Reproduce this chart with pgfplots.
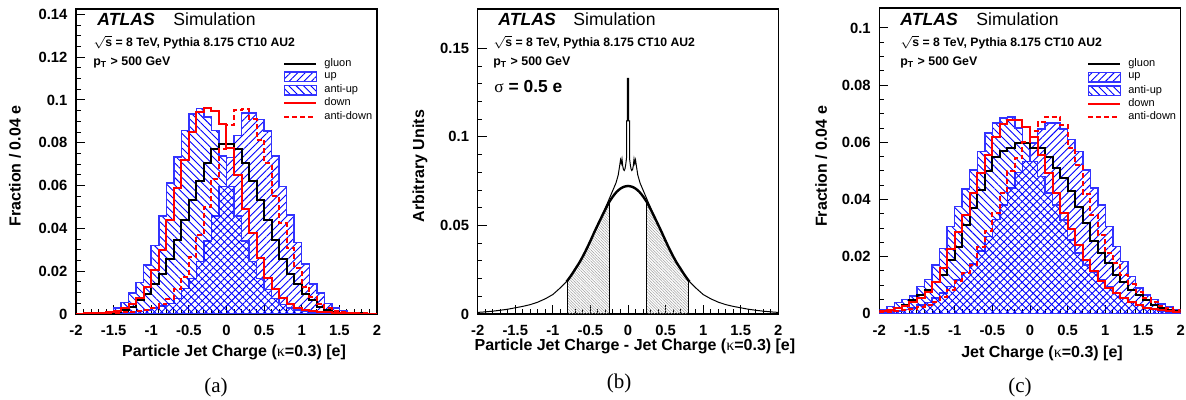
\documentclass[border=0pt]{standalone}
\usepackage{fontspec}
\setmainfont{Liberation Sans}
\newfontfamily\serif{Liberation Serif}
\usepackage{pgfplots}
\pgfplotsset{compat=1.18}
\usepackage{pgfplotstable}
\usetikzlibrary{patterns.meta}

% panel (a): particle jet charge, bins of 0.1 (left edges)
\pgfplotstableread{
x g u au d ad
-2.0 0.0001 0.0001 0.0001 0.0002 0.0001
-1.9 0.0002 0.0001 0.0002 0.0003 0.0001
-1.8 0.0003 0.0001 0.0003 0.0004 0.0002
-1.7 0.0004 0.0002 0.0005 0.0006 0.0003
-1.6 0.0006 0.0002 0.0010 0.0010 0.0004
-1.5 0.0010 0.0003 0.0027 0.0016 0.0005
-1.4 0.0019 0.0005 0.0053 0.0027 0.0007
-1.3 0.0034 0.0008 0.0097 0.0047 0.0010
-1.2 0.0066 0.0012 0.0147 0.0075 0.0014
-1.1 0.0092 0.0018 0.0230 0.0128 0.0020
-1.0 0.0138 0.0028 0.0320 0.0206 0.0030
-0.9 0.0185 0.0038 0.0459 0.0300 0.0045
-0.8 0.0258 0.0050 0.0612 0.0440 0.0072
-0.7 0.0346 0.0073 0.0733 0.0590 0.0118
-0.6 0.0440 0.0120 0.0857 0.0720 0.0175
-0.5 0.0534 0.0167 0.0935 0.0850 0.0265
-0.4 0.0620 0.0245 0.0961 0.0945 0.0370
-0.3 0.0705 0.0340 0.0920 0.0963 0.0500
-0.2 0.0770 0.0458 0.0857 0.0947 0.0630
-0.1 0.0795 0.0596 0.0737 0.0890 0.0770
0.0 0.0795 0.0730 0.0596 0.0776 0.0885
0.1 0.0770 0.0833 0.0458 0.0650 0.0955
0.2 0.0705 0.0940 0.0340 0.0490 0.0957
0.3 0.0620 0.0940 0.0245 0.0380 0.0910
0.4 0.0534 0.0908 0.0167 0.0260 0.0815
0.5 0.0440 0.0854 0.0115 0.0167 0.0705
0.6 0.0346 0.0737 0.0073 0.0115 0.0550
0.7 0.0258 0.0596 0.0045 0.0073 0.0424
0.8 0.0185 0.0463 0.0028 0.0047 0.0307
0.9 0.0138 0.0334 0.0018 0.0030 0.0214
1.0 0.0092 0.0234 0.0012 0.0020 0.0128
1.1 0.0066 0.0140 0.0008 0.0014 0.0081
1.2 0.0034 0.0097 0.0005 0.0010 0.0047
1.3 0.0019 0.0050 0.0003 0.0007 0.0027
1.4 0.0010 0.0027 0.0002 0.0005 0.0016
1.5 0.0006 0.0016 0.0002 0.0004 0.0010
1.6 0.0004 0.0008 0.0001 0.0003 0.0006
1.7 0.0003 0.0005 0.0001 0.0002 0.0004
1.8 0.0002 0.0003 0.0001 0.0002 0.0003
1.9 0.0001 0.0002 0.0001 0.0001 0.0002
2.0 0.0001 0.0002 0.0001 0.0001 0.0002
}\dataA

% panel (c): jet charge
\pgfplotstableread{
x g u au d ad
-2.0 0.0009 0.0005 0.0014 0.0010 0.0005
-1.9 0.0014 0.0007 0.0026 0.0014 0.0006
-1.8 0.0022 0.0010 0.0040 0.0020 0.0009
-1.7 0.0032 0.0015 0.0050 0.0028 0.0012
-1.6 0.0047 0.0021 0.0063 0.0040 0.0016
-1.5 0.0065 0.0030 0.0095 0.0055 0.0024
-1.4 0.0085 0.0040 0.0120 0.0075 0.0031
-1.3 0.0110 0.0055 0.0171 0.0110 0.0043
-1.2 0.0136 0.0072 0.0229 0.0160 0.0060
-1.1 0.0188 0.0095 0.0305 0.0225 0.0085
-1.0 0.0235 0.0118 0.0375 0.0285 0.0115
-0.9 0.0311 0.0145 0.0437 0.0346 0.0142
-0.8 0.0369 0.0175 0.0504 0.0422 0.0170
-0.7 0.0434 0.0220 0.0568 0.0492 0.0235
-0.6 0.0498 0.0270 0.0632 0.0556 0.0288
-0.5 0.0550 0.0330 0.0667 0.0620 0.0352
-0.4 0.0570 0.0380 0.0685 0.0665 0.0422
-0.3 0.0580 0.0440 0.0688 0.0677 0.0498
-0.2 0.0597 0.0495 0.0650 0.0677 0.0545
-0.1 0.0597 0.0533 0.0597 0.0653 0.0600
0.0 0.0580 0.0597 0.0533 0.0620 0.0640
0.1 0.0580 0.0646 0.0480 0.0556 0.0670
0.2 0.0550 0.0667 0.0422 0.0492 0.0690
0.3 0.0510 0.0667 0.0380 0.0422 0.0690
0.4 0.0475 0.0646 0.0328 0.0352 0.0661
0.5 0.0428 0.0609 0.0258 0.0295 0.0580
0.6 0.0375 0.0568 0.0212 0.0241 0.0521
0.7 0.0317 0.0504 0.0171 0.0188 0.0420
0.8 0.0253 0.0440 0.0145 0.0148 0.0345
0.9 0.0212 0.0381 0.0118 0.0113 0.0275
1.0 0.0177 0.0305 0.0095 0.0089 0.0212
1.1 0.0136 0.0235 0.0072 0.0072 0.0177
1.2 0.0110 0.0183 0.0055 0.0055 0.0135
1.3 0.0085 0.0130 0.0040 0.0040 0.0105
1.4 0.0065 0.0090 0.0030 0.0030 0.0075
1.5 0.0047 0.0065 0.0021 0.0022 0.0055
1.6 0.0032 0.0050 0.0015 0.0016 0.0040
1.7 0.0022 0.0035 0.0010 0.0012 0.0028
1.8 0.0014 0.0024 0.0007 0.0009 0.0020
1.9 0.0009 0.0014 0.0005 0.0006 0.0014
2.0 0.0009 0.0014 0.0005 0.0006 0.0014
}\dataC

\tikzset{
  hup/.style={pattern={Lines[angle=45,distance=2.6pt,line width=0.45pt]}, pattern color=blue},
  hau/.style={pattern={Lines[angle=-45,distance=2.6pt,line width=0.45pt]}, pattern color=blue},
  hgray/.style={pattern={Lines[angle=-45,distance=1pt,line width=0.25pt]}, pattern color=gray!75},
}
\pgfplotsset{
  atlas/.style={
    scale only axis,
    anchor=south west,
    xmin=-2, xmax=2, ymin=0,
    tick align=inside, tick pos=left,
    xtick={-2,-1.5,-1,-0.5,0,0.5,1,1.5,2},
    xticklabels={-2,-1.5,-1,-0.5,0,0.5,1,1.5,2},
    minor x tick num=4,
    major tick length=4.5pt, minor tick length=2.3pt,
    axis line style={line width=0.6pt},
    every tick/.style={black, line width=0.5pt},
    ticklabel style={font=\bfseries\fontsize{7.4}{8}\selectfont},
    xticklabel style={yshift=-2.3pt},
    yticklabel style={xshift=-0.8pt},
    label style={font=\bfseries\fontsize{8}{9.6}\selectfont},
    legend cell align=left,
    legend style={draw=none, fill=none, inner sep=0pt, row sep=1.1pt,
      font=\fontsize{5.5}{6.2}\selectfont,
      /tikz/every odd column/.append style={column sep=3.5pt},
      nodes={inner sep=0pt}},
  },
  hatchleg/.style={legend image code/.code={\draw[blue!80, line width=0.75pt, #1] (0pt,-2.4pt) rectangle (16pt,2.4pt);}},
  lineleg/.style={legend image code/.code={\draw[#1] (0pt,0pt) -- (16pt,0pt);}},
}

\newcommand{\atlastext}[3]{%
  \node[anchor=base west, inner sep=0pt, font=\fontsize{8.8}{10}\selectfont\bfseries\itshape] at (#1,374) {ATLAS};
  \node[anchor=base west, inner sep=0pt, font=\fontsize{8.8}{10}\selectfont] at (#2,374) {Simulation};
  \node[anchor=base west, inner sep=0pt, font=\fontsize{6.1}{7}\selectfont\bfseries] at (#3,353.5) {$\sqrt{\mbox{s}}$ = 8 TeV, Pythia 8.175 CT10 AU2};
  \node[anchor=base west, inner sep=0pt, font=\fontsize{6.2}{7}\selectfont\bfseries] at (#3,334) {p\textsubscript{T} > 500 GeV};
}

\begin{document}
\begin{tikzpicture}[x=0.5pt,y=0.5pt]
\useasboundingbox (0,0) rectangle (1186,400);

% ---------------- (a)
\begin{axis}[atlas, at={(38pt,43pt)}, width=150.5pt, height=152.5pt, ymax=0.1425,
  ytick={0,0.02,0.04,0.06,0.08,0.1,0.12,0.14},
  yticklabels={0,0.02,0.04,0.06,0.08,0.1,0.12,0.14},
  minor y tick num=3,
  xlabel={Particle Jet Charge ({\serif\mdseries κ}=0.3) [e]},
  ylabel={Fraction / 0.04 e},
  xlabel style={at={(axis description cs:0.525,-0.125)}, anchor=center},
  ylabel style={at={(axis description cs:-0.203,0.485)}, anchor=center},
  legend style={at={(axis description cs:0.688,0.840)}, anchor=north west},
]
\addlegendimage{lineleg={black, line width=1pt}}
\addlegendentry{gluon}
\addlegendimage{hatchleg={hup}}
\addlegendentry{up}
\addlegendimage{hatchleg={hau}}
\addlegendentry{anti-up}
\addlegendimage{lineleg={red, line width=1pt}}
\addlegendentry{down}
\addlegendimage{lineleg={red, line width=1pt, dash pattern=on 2.5pt off 1.5pt}}
\addlegendentry{anti-down}
\addplot[forget plot, const plot, draw=blue!80, line width=0.75pt, hup] table[x=x,y=u] {\dataA} \closedcycle;
\addplot[forget plot, const plot, draw=blue!80, line width=0.75pt, hau] table[x=x,y=au] {\dataA} \closedcycle;
\addplot[forget plot, const plot, black, line width=1pt] table[x=x,y=g] {\dataA};
\addplot[forget plot, const plot, red, line width=1pt, dash pattern=on 2.5pt off 1.5pt] table[x=x,y=ad] {\dataA};
\addplot[forget plot, const plot, red, line width=1pt] table[x=x,y=d] {\dataA};
\end{axis}
\atlastext{97}{173}{93}
\node[font=\serif\fontsize{10.5}{12}\selectfont] at (216,13) {(a)};

% ---------------- (b)
\begin{axis}[atlas, at={(238.85pt,43pt)}, width=150.3pt, height=152.5pt, ymax=0.1722,
  ytick={0,0.05,0.1,0.15},
  yticklabels={0,0.05,0.1,0.15},
  minor y tick num=4,
  xlabel={Particle Jet Charge - Jet Charge ({\serif\mdseries κ}=0.3) [e]},
  ylabel={Arbitrary Units},
  xlabel style={at={(axis description cs:0.523,-0.107)}, anchor=center},
  ylabel style={at={(axis description cs:-0.192,0.485)}, anchor=center},
]
\addplot[draw=none, hgray] coordinates {
(-0.81,0.0187) (-0.80,0.0192) (-0.75,0.0222) (-0.70,0.0255) (-0.65,0.0288) (-0.60,0.0326)
(-0.55,0.0368) (-0.50,0.0413) (-0.45,0.0460) (-0.40,0.0505) (-0.35,0.0549) (-0.30,0.0592) (-0.25,0.0632)
} \closedcycle;
\addplot[draw=none, hgray] coordinates {
(0.25,0.0632) (0.30,0.0592) (0.35,0.0549) (0.40,0.0505) (0.45,0.0460) (0.50,0.0413) (0.55,0.0368)
(0.60,0.0326) (0.65,0.0288) (0.70,0.0255) (0.75,0.0222) (0.80,0.0192) (0.81,0.0187)
} \closedcycle;
\addplot[black, line width=0.5pt] coordinates {(-0.81,0) (-0.81,0.0187)};
\addplot[black, line width=0.5pt] coordinates {(-0.25,0) (-0.25,0.0632)};
\addplot[black, line width=0.5pt] coordinates {(0.25,0) (0.25,0.0632)};
\addplot[black, line width=0.5pt] coordinates {(0.81,0) (0.81,0.0187)};
% fine-binned difference distribution
\addplot[black, line width=0.5pt] coordinates {
(-2.00,0.0009) (-1.90,0.0012) (-1.80,0.0016) (-1.70,0.0021) (-1.60,0.0027) (-1.50,0.0035)
(-1.40,0.0043) (-1.30,0.0053) (-1.20,0.0067) (-1.10,0.0086) (-1.00,0.0110) (-0.90,0.0148)
(-0.82,0.0182) (-0.75,0.0222) (-0.70,0.0255) (-0.65,0.0288) (-0.60,0.0328) (-0.55,0.0370)
(-0.50,0.0415) (-0.45,0.0462) (-0.40,0.0507) (-0.35,0.0551) (-0.30,0.0600) (-0.25,0.0650)
(-0.20,0.0700) (-0.16,0.0740) (-0.13,0.0785) (-0.11,0.0840) (-0.10,0.0870) (-0.09,0.0850)
(-0.08,0.0875) (-0.07,0.0835) (-0.06,0.0815) (-0.05,0.0810) (-0.04,0.0820) (-0.03,0.0845)
(-0.02,0.0880) (-0.02,0.1090) (-0.008,0.1090) (-0.008,0.1330) (0.008,0.1330) (0.008,0.1090)
(0.02,0.1090) (0.02,0.0880) (0.03,0.0845) (0.04,0.0820) (0.05,0.0810) (0.06,0.0815)
(0.07,0.0835) (0.08,0.0875) (0.09,0.0850) (0.10,0.0870) (0.11,0.0840) (0.13,0.0785)
(0.16,0.0740) (0.20,0.0700) (0.25,0.0650) (0.30,0.0600) (0.35,0.0551) (0.40,0.0507)
(0.45,0.0462) (0.50,0.0415) (0.55,0.0370) (0.60,0.0328) (0.65,0.0288) (0.70,0.0255)
(0.75,0.0222) (0.82,0.0182) (0.90,0.0148) (1.00,0.0110) (1.10,0.0086) (1.20,0.0067)
(1.30,0.0053) (1.40,0.0043) (1.50,0.0035) (1.60,0.0027) (1.70,0.0021) (1.80,0.0016)
(1.90,0.0012) (2.00,0.0009)
};
% fitted core
\addplot[black, line width=1.2pt, smooth] coordinates {
(-0.82,0.0182) (-0.80,0.0192) (-0.75,0.0222) (-0.70,0.0255) (-0.65,0.0288) (-0.60,0.0326)
(-0.55,0.0368) (-0.50,0.0413) (-0.45,0.0460) (-0.40,0.0505) (-0.35,0.0549) (-0.30,0.0592)
(-0.25,0.0632) (-0.20,0.0664) (-0.15,0.0690) (-0.10,0.0708) (-0.05,0.0719) (0.00,0.0723)
(0.05,0.0719) (0.10,0.0708) (0.15,0.0690) (0.20,0.0664) (0.25,0.0632) (0.30,0.0592)
(0.35,0.0549) (0.40,0.0505) (0.45,0.0460) (0.50,0.0413) (0.55,0.0368) (0.60,0.0326)
(0.65,0.0288) (0.70,0.0255) (0.75,0.0222) (0.80,0.0192) (0.82,0.0182)
};
\end{axis}
\atlastext{498}{573}{493}
\node[anchor=base west, inner sep=0pt, font=\fontsize{8.7}{10}\selectfont\bfseries] at (494,307) {{\serif\mdseries σ} = 0.5 e};
\node[font=\serif\fontsize{10.5}{12}\selectfont] at (619,17) {(b)};

% ---------------- (c)
\begin{axis}[atlas, at={(439.65pt,43.1pt)}, width=150.7pt, height=152.9pt, ymax=0.107,
  ytick={0,0.02,0.04,0.06,0.08,0.1},
  yticklabels={0,0.02,0.04,0.06,0.08,0.1},
  minor y tick num=3,
  xlabel={Jet Charge ({\serif\mdseries κ}=0.3) [e]},
  ylabel={Fraction / 0.04 e},
  xlabel style={at={(axis description cs:0.54,-0.128)}, anchor=center},
  ylabel style={at={(axis description cs:-0.193,0.482)}, anchor=center},
  legend style={at={(axis description cs:0.689,0.836)}, anchor=north west},
]
\addlegendimage{lineleg={black, line width=1pt}}
\addlegendentry{gluon}
\addlegendimage{hatchleg={hup}}
\addlegendentry{up}
\addlegendimage{hatchleg={hau}}
\addlegendentry{anti-up}
\addlegendimage{lineleg={red, line width=1pt}}
\addlegendentry{down}
\addlegendimage{lineleg={red, line width=1pt, dash pattern=on 2.5pt off 1.5pt}}
\addlegendentry{anti-down}
\addplot[forget plot, const plot, draw=blue!80, line width=0.75pt, hup] table[x=x,y=u] {\dataC} \closedcycle;
\addplot[forget plot, const plot, draw=blue!80, line width=0.75pt, hau] table[x=x,y=au] {\dataC} \closedcycle;
\addplot[forget plot, const plot, black, line width=1pt] table[x=x,y=g] {\dataC};
\addplot[forget plot, const plot, red, line width=1pt, dash pattern=on 2.5pt off 1.5pt] table[x=x,y=ad] {\dataC};
\addplot[forget plot, const plot, red, line width=1pt] table[x=x,y=d] {\dataC};
\end{axis}
\atlastext{900}{976}{900}
\node[font=\serif\fontsize{10.5}{12}\selectfont] at (1020,13) {(c)};
\end{tikzpicture}
\end{document}
